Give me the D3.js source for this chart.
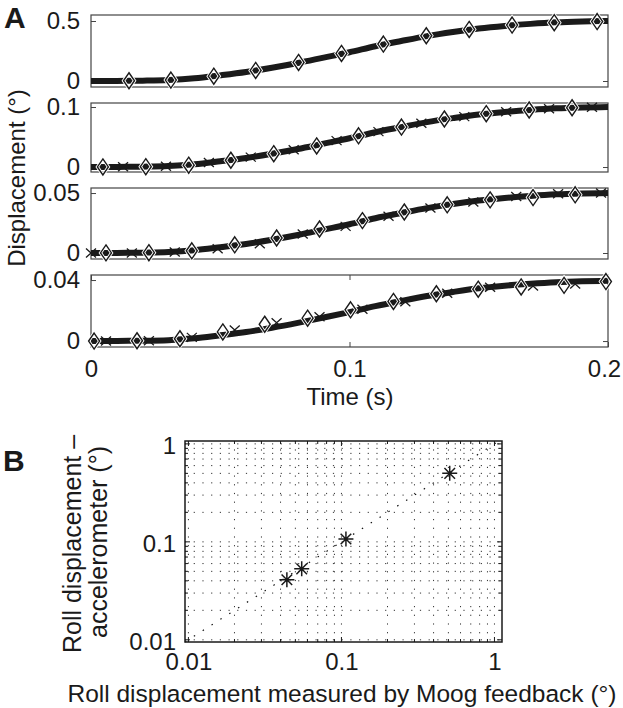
<!DOCTYPE html>
<html>
<head>
<meta charset="utf-8">
<script src="https://cdn.jsdelivr.net/npm/d3@7"></script>
<style>
  html, body { margin: 0; padding: 0; background: #fff; }
  svg { display: block; }
  text { font-family: "Liberation Sans", Arial, Helvetica, sans-serif; fill: #1a1a1a; }
</style>
</head>
<body>
<svg id="chart" width="623" height="708"></svg>
<script>
// ---------------- DATA ----------------
// Panel A: time base for the continuous (command) trace, seconds
const lineTime = [0, 0.01, 0.02, 0.03, 0.04, 0.05, 0.06, 0.07, 0.08, 0.09, 0.10,
                  0.11, 0.12, 0.13, 0.14, 0.15, 0.16, 0.17, 0.18, 0.19, 0.20];
// Panel A: continuous traces (degrees), one per subplot
const line1 = [0, 0.001, 0.003, 0.008, 0.022, 0.047, 0.075, 0.110, 0.150, 0.195, 0.240,
               0.290, 0.333, 0.374, 0.408, 0.437, 0.459, 0.476, 0.489, 0.496, 0.500];
const line2 = [0, 0.0002, 0.0006, 0.0016, 0.0045, 0.0095, 0.0150, 0.0220, 0.0300, 0.0390, 0.0480,
               0.0580, 0.0665, 0.0748, 0.0815, 0.0875, 0.0918, 0.0952, 0.0978, 0.0992, 0.1000];
const line3 = [0, 0.0001, 0.0003, 0.0008, 0.0023, 0.0048, 0.0075, 0.0110, 0.0150, 0.0195, 0.0240,
               0.0290, 0.0333, 0.0374, 0.0408, 0.0437, 0.0459, 0.0476, 0.0489, 0.0496, 0.0500];
const line4 = [0, 0.0001, 0.0002, 0.0006, 0.0018, 0.0038, 0.0059, 0.0087, 0.0119, 0.0154, 0.0190,
               0.0229, 0.0263, 0.0295, 0.0322, 0.0346, 0.0363, 0.0376, 0.0386, 0.0392, 0.0395];

// Panel A: diamond samples (time, displacement)
const diamondT1 = [0.0147, 0.0309, 0.0475, 0.0637, 0.0803, 0.0969, 0.1131, 0.1297, 0.1463, 0.1629, 0.1792, 0.1958];
const diamondV1 = [0.002, 0.008, 0.040, 0.088, 0.155, 0.230, 0.308, 0.377, 0.430, 0.466, 0.486, 0.495];
const diamondT2 = [0.0046, 0.0212, 0.0378, 0.0541, 0.0707, 0.0873, 0.1035, 0.1201, 0.1367, 0.1529, 0.1695, 0.1861];
const diamondV2 = [0.0001, 0.0006, 0.0030, 0.0113, 0.0223, 0.0352, 0.0520, 0.0666, 0.0800, 0.0889, 0.0950, 0.0988];
const crossT2   = [0.0124, 0.0290, 0.0456, 0.0618, 0.0784, 0.0950, 0.1112, 0.1278, 0.1444, 0.1606, 0.1772, 0.1938];
const crossV2   = [0.0003, 0.0013, 0.0075, 0.0165, 0.0288, 0.0440, 0.0590, 0.0730, 0.0840, 0.0922, 0.0972, 0.0997];
const diamondT3 = [0.0058, 0.0224, 0.0390, 0.0556, 0.0718, 0.0884, 0.1050, 0.1212, 0.1378, 0.1544, 0.1710, 0.1873];
const diamondV3 = [0.0001, 0.0003, 0.0018, 0.0068, 0.0125, 0.0200, 0.0270, 0.0342, 0.0402, 0.0443, 0.0462, 0.0485];
const crossT3   = [0.0000, 0.0158, 0.0324, 0.0490, 0.0653, 0.0819, 0.0985, 0.1151, 0.1313, 0.1479, 0.1645, 0.1807, 0.1973];
const crossV3   = [0.0000, 0.0000, 0.0008, 0.0036, 0.0078, 0.0158, 0.0222, 0.0306, 0.0375, 0.0425, 0.0472, 0.0494, 0.0500];
const diamondT4 = [0.0012, 0.0178, 0.0344, 0.0510, 0.0672, 0.0838, 0.1004, 0.1170, 0.1336, 0.1498, 0.1664, 0.1830, 0.1992];
const diamondV4 = [0.0000, 0.0002, 0.0015, 0.0060, 0.0110, 0.0150, 0.0205, 0.0260, 0.0310, 0.0340, 0.0355, 0.0365, 0.0390];
const crossT4   = [0.0058, 0.0224, 0.0390, 0.0556, 0.0718, 0.0884, 0.1050, 0.1216, 0.1378, 0.1544, 0.1710, 0.1873];
const crossV4   = [0.0000, 0.0002, 0.0024, 0.0072, 0.0120, 0.0160, 0.0208, 0.0258, 0.0313, 0.0352, 0.0361, 0.0374];

// Panel A tick labels
const yTicks1 = [0, 0.5];
const yTicks2 = [0, 0.1];
const yTicks3 = [0, 0.05];
const yTicks4 = [0, 0.04];
const timeTicks = [0, 0.1, 0.2];

// Panel B: peak roll displacement, Moog feedback (x) vs accelerometer (y)
const moogPeak  = [0.044, 0.055, 0.107, 0.51];
const accelPeak = [0.041, 0.053, 0.107, 0.50];
const logTicks = [0.01, 0.1, 1];
const logTickLabels = ["0.01", "0.1", "1"];

// Text
const panelLabels = ["A", "B"];
const yLabelA = "Displacement (°)";
const xLabelA = "Time (s)";
const yLabelB = ["Roll displacement –", "accelerometer (°)"];
const xLabelB = "Roll displacement measured by Moog feedback (°)";

// ---------------- DRAW ----------------
const svg = d3.select("#chart");
const INK = "#1a1a1a";
const FS = 24;
const FONT = '"Liberation Sans", Arial, sans-serif';

const x = d3.scaleLinear().domain([0, 0.2]).range([91, 608]);

const panels = [
  { line: line1, dT: diamondT1, dV: diamondV1, cT: [], cV: [], ticks: yTicks1,
    top: 15, bottom: 87, dom: [-0.05, 0.55], xt: false },
  { line: line2, dT: diamondT2, dV: diamondV2, cT: crossT2, cV: crossV2, ticks: yTicks2,
    top: 103, bottom: 172, dom: [-0.0083, 0.1067], xt: false },
  { line: line3, dT: diamondT3, dV: diamondV3, cT: crossT3, cV: crossV3, ticks: yTicks3,
    top: 188, bottom: 259, dom: [-0.005, 0.0542], xt: false },
  { line: line4, dT: diamondT4, dV: diamondV4, cT: crossT4, cV: crossV4, ticks: yTicks4,
    top: 275, bottom: 347, dom: [-0.0039, 0.0433], xt: true },
];

function diamondPath(cx, cy, w, h) {
  return `M${cx},${cy - h / 2}L${cx + w / 2},${cy}L${cx},${cy + h / 2}L${cx - w / 2},${cy}Z`;
}

panels.forEach((p, i) => {
  const y = d3.scaleLinear().domain(p.dom).range([p.bottom, p.top]);
  const g = svg.append("g");
  const clipId = "clipA" + i;
  svg.append("clipPath").attr("id", clipId)
    .append("rect").attr("x", x.range()[0] - 8).attr("y", p.top - 8)
    .attr("width", x.range()[1] - x.range()[0] + 16).attr("height", p.bottom - p.top + 16);

  // box
  g.append("rect").attr("x", x.range()[0]).attr("y", p.top)
    .attr("width", x.range()[1] - x.range()[0]).attr("height", p.bottom - p.top)
    .attr("fill", "none").attr("stroke", "#444").attr("stroke-width", 1.2);

  // y ticks (inward, both sides) via axes
  const axL = d3.axisLeft(y).tickValues(p.ticks).tickSizeInner(-5).tickSizeOuter(0)
    .tickFormat(d => String(d)).tickPadding(11);
  const gl = g.append("g").attr("transform", `translate(${x.range()[0]},0)`).call(axL);
  gl.select(".domain").remove();
  gl.selectAll("line").attr("stroke", "#444");
  gl.selectAll("text").attr("font-size", FS).attr("fill", INK).attr("font-family", FONT);
  const axR = d3.axisRight(y).tickValues(p.ticks).tickSizeInner(-5).tickSizeOuter(0).tickFormat("");
  const gr = g.append("g").attr("transform", `translate(${x.range()[1]},0)`).call(axR);
  gr.select(".domain").remove();
  gr.selectAll("line").attr("stroke", "#444");

  if (p.xt) {
    const axB = d3.axisBottom(x).tickValues(timeTicks).tickSizeInner(-5).tickSizeOuter(0)
      .tickFormat(d => String(d)).tickPadding(13);
    const gb = g.append("g").attr("transform", `translate(0,${p.bottom})`).call(axB);
    gb.select(".domain").remove();
    gb.selectAll("line").attr("stroke", "#444");
    gb.selectAll("text").attr("font-size", FS).attr("fill", INK).attr("font-family", FONT)
      .attr("dx", d => d === 0.2 ? -4 : 0);
    const axT = d3.axisTop(x).tickValues(timeTicks).tickSizeInner(-5).tickSizeOuter(0).tickFormat("");
    const gt = g.append("g").attr("transform", `translate(0,${p.top})`).call(axT);
    gt.select(".domain").remove();
    gt.selectAll("line").attr("stroke", "#444");
  }

  const plot = g.append("g").attr("clip-path", `url(#${clipId})`);
  const lineGen = d3.line().x((d, k) => x(lineTime[k])).y(d => y(d)).curve(d3.curveMonotoneX);
  plot.append("path").datum(p.line).attr("d", lineGen)
    .attr("fill", "none").attr("stroke", INK).attr("stroke-width", 6).attr("stroke-linecap", "butt");

  // diamonds (with thin white halo)
  plot.selectAll(".dm").data(p.dV).join("path")
    .attr("d", (v, k) => diamondPath(x(p.dT[k]), y(v), 11, 16))
    .attr("fill", "none").attr("stroke", "#fff").attr("stroke-width", 3.2);
  plot.selectAll(".dm2").data(p.dV).join("path")
    .attr("d", (v, k) => diamondPath(x(p.dT[k]), y(v), 11, 16))
    .attr("fill", "none").attr("stroke", INK).attr("stroke-width", 1.4);
  // crosses
  plot.selectAll(".cr").data(p.cV).join("path")
    .attr("d", (v, k) => {
      const cx = x(p.cT[k]), cy = y(v), w = 5, h = 4.5;
      return `M${cx - w},${cy - h}L${cx + w},${cy + h}M${cx - w},${cy + h}L${cx + w},${cy - h}`;
    })
    .attr("fill", "none").attr("stroke", INK).attr("stroke-width", 1.3);
});

// Panel A labels
svg.append("text").attr("x", 4).attr("y", 28).attr("font-size", 30).attr("font-weight", "bold").text(panelLabels[0]);
svg.append("text").attr("transform", "translate(25,178) rotate(-90)").attr("text-anchor", "middle")
  .attr("font-size", FS).text(yLabelA);
svg.append("text").attr("x", 350).attr("y", 405).attr("text-anchor", "middle").attr("font-size", FS).text(xLabelA);

// ---------------- Panel B ----------------
const bx = d3.scaleLog().domain([0.0095, 1.12]).range([185, 502]);
const by = d3.scaleLog().domain([0.0095, 1.07]).range([642, 441]);
const gB = svg.append("g");

// minor + major grid positions
const gridX = bx.ticks().filter(v => v >= bx.domain()[0] && v <= bx.domain()[1]);
const gridY = by.ticks().filter(v => v >= by.domain()[0] && v <= by.domain()[1]);

gB.selectAll(".gx").data(gridX).join("line")
  .attr("x1", d => bx(d)).attr("x2", d => bx(d)).attr("y1", by.range()[0]).attr("y2", by.range()[1])
  .attr("stroke", "#333").attr("stroke-width", 1).attr("stroke-dasharray", "1.2,7.5");
gB.selectAll(".gy").data(gridY).join("line")
  .attr("y1", d => by(d)).attr("y2", d => by(d)).attr("x1", bx.range()[0]).attr("x2", bx.range()[1])
  .attr("stroke", "#333").attr("stroke-width", 1).attr("stroke-dasharray", "1.2,7.5");

// unity line (dotted)
gB.append("line")
  .attr("x1", bx(0.0095)).attr("y1", by(0.0095)).attr("x2", bx(1.07)).attr("y2", by(1.07))
  .attr("stroke", "#111").attr("stroke-width", 1.2).attr("stroke-dasharray", "1.5,9");

// box
gB.append("rect").attr("x", bx.range()[0]).attr("y", by.range()[1])
  .attr("width", bx.range()[1] - bx.range()[0]).attr("height", by.range()[0] - by.range()[1])
  .attr("fill", "none").attr("stroke", INK).attr("stroke-width", 1.5);

// ticks inward on all sides
const isMajor = v => Math.abs(Math.log10(v) - Math.round(Math.log10(v))) < 1e-6;
function tickLines(sel, vals, pos, horizontal, base, dir) {
  sel.selectAll(null).data(vals).join("line")
    .attr(horizontal ? "x1" : "y1", d => pos(d)).attr(horizontal ? "x2" : "y2", d => pos(d))
    .attr(horizontal ? "y1" : "x1", base)
    .attr(horizontal ? "y2" : "x2", d => base + dir * (isMajor(d) ? 5 : 3))
    .attr("stroke", INK).attr("stroke-width", 1);
}
tickLines(gB, gridX, bx, true, by.range()[0], -1);
tickLines(gB, gridX, bx, true, by.range()[1], 1);
tickLines(gB, gridY, by, false, bx.range()[0], 1);
tickLines(gB, gridY, by, false, bx.range()[1], -1);

// tick labels
const axBx = d3.axisBottom(bx).tickValues(logTicks).tickSize(0).tickPadding(11).tickFormat((d, i) => logTickLabels[i]);
const gbx = gB.append("g").attr("transform", `translate(0,${by.range()[0]})`).call(axBx);
gbx.select(".domain").remove();
gbx.selectAll("text").attr("font-size", FS).attr("fill", INK).attr("font-family", FONT);
const axBy = d3.axisLeft(by).tickValues(logTicks).tickSize(0).tickPadding(9).tickFormat((d, i) => logTickLabels[i]);
const gby = gB.append("g").attr("transform", `translate(${bx.range()[0]},0)`).call(axBy);
gby.select(".domain").remove();
gby.selectAll("text").attr("font-size", FS).attr("fill", INK).attr("font-family", FONT)
  .attr("dy", "0.4em");

// asterisks
gB.selectAll(".st").data(moogPeak).join("path")
  .attr("d", (v, k) => {
    const cx = bx(v), cy = by(accelPeak[k]), r = 7.5, d = 5.3;
    return `M${cx - r},${cy}L${cx + r},${cy}M${cx},${cy - r}L${cx},${cy + r}` +
           `M${cx - d},${cy - d}L${cx + d},${cy + d}M${cx - d},${cy + d}L${cx + d},${cy - d}`;
  })
  .attr("fill", "none").attr("stroke", INK).attr("stroke-width", 1.5);

// Panel B labels
svg.append("text").attr("x", 3).attr("y", 471).attr("font-size", 30).attr("font-weight", "bold").text(panelLabels[1]);
svg.append("text").attr("transform", "translate(81,544) rotate(-90)").attr("text-anchor", "middle")
  .attr("font-size", 25).text(yLabelB[0]);
svg.append("text").attr("transform", "translate(107,542) rotate(-90)").attr("text-anchor", "middle")
  .attr("font-size", 25).text(yLabelB[1]);
svg.append("text").attr("x", 342).attr("y", 702).attr("text-anchor", "middle").attr("font-size", 24.5).text(xLabelB);
</script>
</body>
</html>
